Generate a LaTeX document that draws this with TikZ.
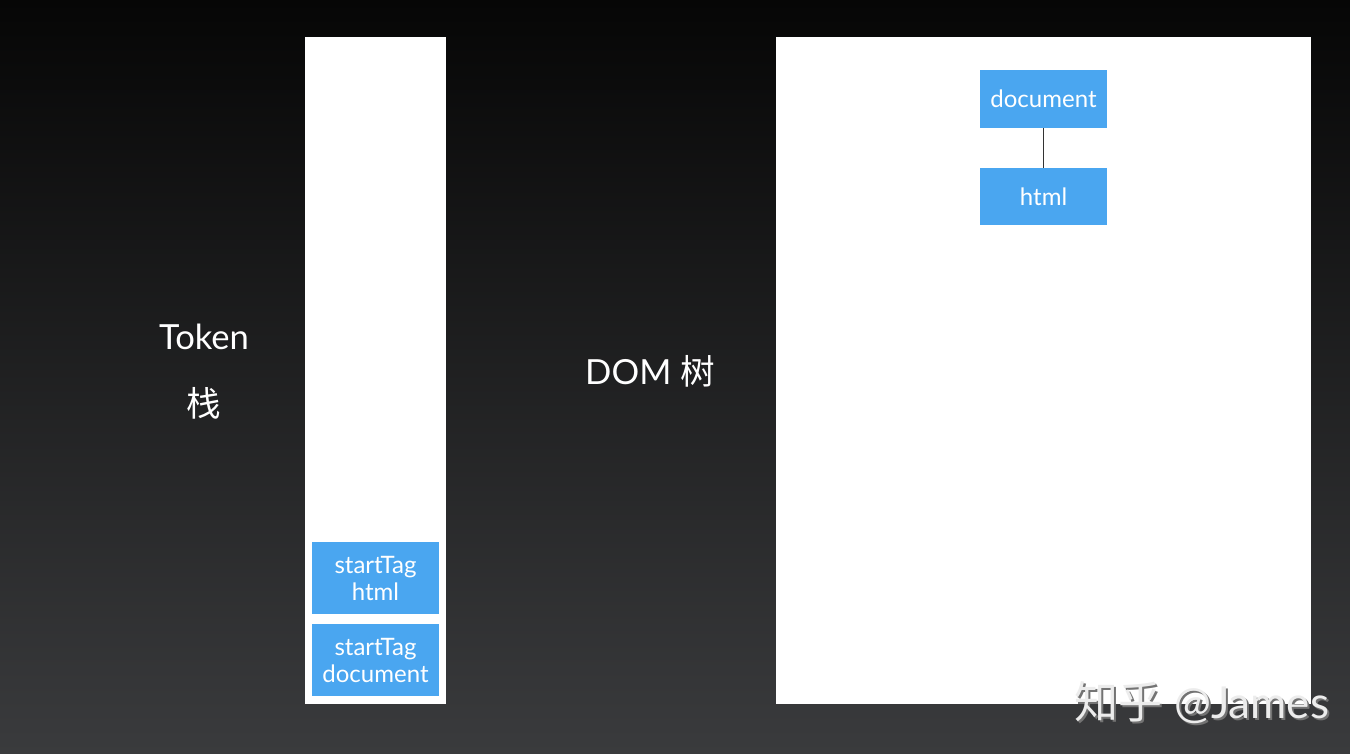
\documentclass[tikz,border=0pt]{standalone}
\usepackage{fontspec}
\setmainfont{Lato}
\newfontfamily\cjk{Noto Sans CJK SC}
\usetikzlibrary{positioning}
\definecolor{nodeblue}{RGB}{74,166,240}
\definecolor{bgtop}{RGB}{6,6,6}
\definecolor{bgbot}{RGB}{58,59,61}
\begin{document}
\begin{tikzpicture}[x=0.5pt,y=-0.5pt,
  panel/.style={fill=white,draw=none},
  bluebox/.style={fill=nodeblue,draw=none,text=white,minimum width=63.5pt,inner sep=0pt,align=center,font=\fontsize{12}{13.5}\selectfont},
  label/.style={text=white,font=\fontsize{17.3}{20}\selectfont},
  link/.style={draw=black!80,line width=0.6pt}]
\useasboundingbox (0,0) rectangle (1350,754);
\shade[top color=bgtop,bottom color=bgbot] (0,0) rectangle (1350,754);
\fill[panel] (305,37) rectangle (446,704);
\fill[panel] (776,37) rectangle (1311,704);
\node[bluebox,minimum height=36pt] (sh) at (375.5,578) {startTag\\html};
\node[bluebox,minimum height=36pt] (sd) at (375.5,660) {startTag\\document};
\node[bluebox,minimum height=29pt] (doc) at (1043.5,99) {document};
\node[bluebox,minimum height=28.5pt] (html) at (1043.5,196.5) {html};
\draw[link] (doc) -- (html);
\node[label] (tok) at (204,337) {Token};
\node[label] (zhan) at (204,403) {\cjk 栈};
\node[label] (dom) at (650,371) {DOM {\cjk 树}};
\node[text=black!55,font=\fontsize{22}{24}\selectfont] (wms) at (1204,705) {{\cjk 知乎} @James};
\node[text=white!85!gray,font=\fontsize{22}{24}\selectfont] (wm) at (1202,703) {{\cjk 知乎} @James};
\end{tikzpicture}
\end{document}
